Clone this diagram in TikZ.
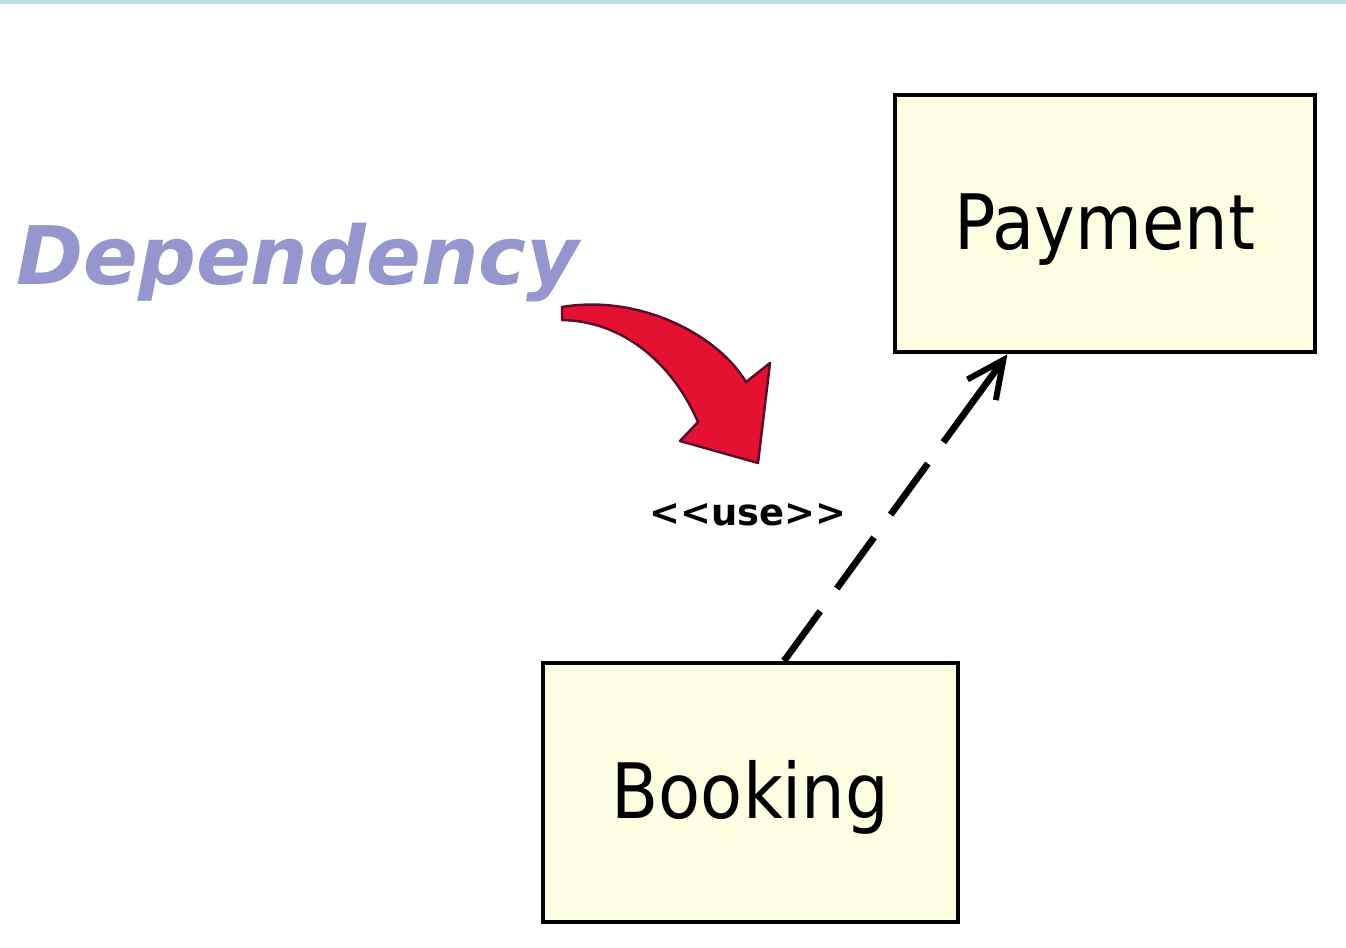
\documentclass[tikz,border=0pt]{standalone}
\usepackage{fontspec}
\usetikzlibrary{arrows.meta}
\usetikzlibrary{calc}
\newfontfamily\boxfont{DejaVu Sans Condensed}
\newfontfamily\labelfont{DejaVu Sans}
\definecolor{cream}{RGB}{254,254,226}
\definecolor{topband}{RGB}{188,224,226}
\definecolor{lavender}{RGB}{150,150,206}
\definecolor{depred}{RGB}{228,18,48}
\definecolor{depredline}{RGB}{90,10,45}

\tikzset{
  classbox/.style={draw=black, fill=cream, line width=2.4pt, minimum width=8.4cm, minimum height=5.15cm, inner sep=0pt, font=\boxfont\fontsize{43.5}{50}\selectfont},
  usearrow/.style={line width=3.8pt, dash pattern=on 35pt off 16pt on 36pt off 16pt on 36pt off 15pt on 80pt off 1pt, -{Straight Barb[length=21pt,width=20pt,line width=3.4pt]}},
  redarrow/.style={fill=depred, draw=depredline, line width=1.4pt, line join=round}
}

\begin{document}
\begin{tikzpicture}[x=0.02cm,y=-0.02cm]
     \useasboundingbox (0,0) rectangle (1346,947);
     \fill[topband] (0,0) rectangle (1346,4);

     \node[classbox] (payment) at (1105,223.5) {\raisebox{-3.5pt}[\height][\depth]{Payment}};
     \node[classbox, minimum width=8.3cm, minimum height=5.18cm] (booking) at (750.5,792.5) {\raisebox{-3pt}[\height][\depth]{Booking}};

     % label and the big red pointer
     \node[anchor=base west, inner sep=0pt, text=lavender, font=\labelfont\bfseries\itshape\fontsize{46}{50}\selectfont] (deplabel) at (16,284) {Dependency};
     \filldraw[redarrow] (562,307) .. controls (640,294) and (718,335) .. (746,382) -- (770,363) -- (758,463) -- (680,441) -- (698,422) .. controls (672,362) and (622,321) .. (562,320) -- cycle;

     \node[inner sep=0pt, font=\labelfont\bfseries\fontsize{21}{24}\selectfont] (uselabel) at (748,515) {<{}<use>{}>};

     \draw[usearrow] ($(booking.north west)!0.58!(booking.north east)$) -- ($(payment.south west)!0.27!(payment.south east)$);
\end{tikzpicture}
\end{document}
